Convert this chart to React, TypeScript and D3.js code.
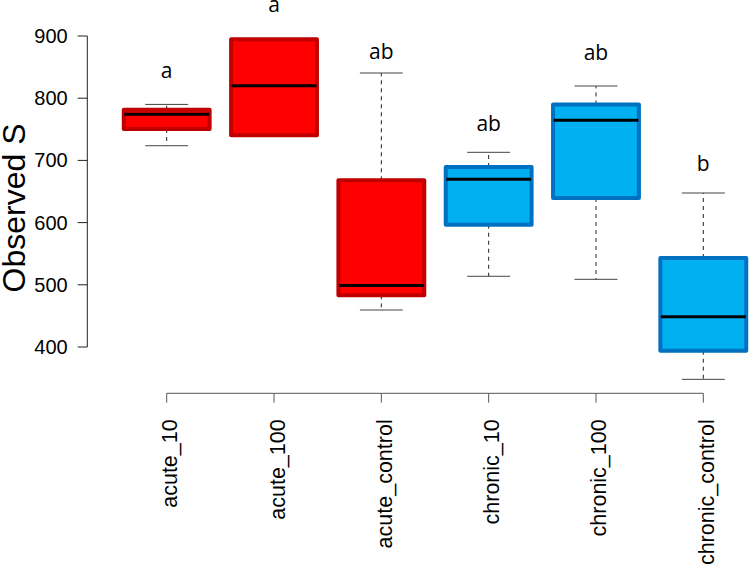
import React from "react";
import * as d3 from "d3";

const categories = ["acute_10", "acute_100", "acute_control", "chronic_10", "chronic_100", "chronic_control"];
const groups = ["acute", "acute", "acute", "chronic", "chronic", "chronic"];
const whiskerLow = [723.6, 740.4, 459.5, 513.7, 508.8, 348];
const q1 = [750.5, 740.4, 483, 596.6, 639.6, 394];
const median = [774, 820, 499, 669.6, 764.5, 448.7];
const q3 = [781.5, 894.7, 668, 689.4, 790, 543];
const whiskerHigh = [790, 894.7, 840.5, 713, 819.6, 647.6];
const letters = ["a", "a", "ab", "ab", "ab", "b"];
const letterPos = [832, 938, 862.5, 747.3, 861.4, 683];
const yTicks = [400, 500, 600, 700, 800, 900];

const fillColor: Record<string, string> = { acute: "#FF0000", chronic: "#00B0F0" };
const borderColor: Record<string, string> = { acute: "#C00000", chronic: "#0070C0" };

const W = 749;
const H = 571;

export default function App() {
  const x = d3.scalePoint<string>().domain(categories).range([166.7, 703.3]);
  const y = d3.scaleLinear().domain([400, 900]).range([347, 36]);
  const step = x.step();
  const halfBox = step * 0.4;
  const halfCap = halfBox / 2;
  const axisY = 393.3;
  const axisX = 87.3;
  const font = "'Liberation Sans', Arial, sans-serif";

  return (
    <svg width={W} height={H} style={{ position: "absolute", left: 0, top: 0, background: "#fff" }}>
      {/* y axis */}
      <line x1={axisX} x2={axisX} y1={y(900)} y2={y(400)} stroke="#222" strokeWidth={1} />
      {yTicks.map((t) => (
        <g key={t}>
          <line x1={axisX - 9.6} x2={axisX} y1={y(t)} y2={y(t)} stroke="#222" strokeWidth={1} />
          <text x={67.7} y={y(t)} textAnchor="end" dominantBaseline="central" fontFamily={font} fontSize={20} fill="#000">
            {t}
          </text>
        </g>
      ))}
      <text
        transform={`translate(25,208) rotate(-90)`}
        textAnchor="middle"
        fontFamily={font}
        fontSize={32}
        fill="#000"
      >
        Observed S
      </text>

      {/* x axis */}
      <line x1={x(categories[0])} x2={x(categories[categories.length - 1])} y1={axisY} y2={axisY} stroke="#555" strokeWidth={1} />
      {categories.map((c) => (
        <g key={c}>
          <line x1={x(c)} x2={x(c)} y1={axisY} y2={axisY + 9.4} stroke="#555" strokeWidth={1} />
          <text
            transform={`translate(${(x(c) as number) + 10.5},419.3) rotate(-90)`}
            textAnchor="end"
            fontFamily={font}
            fontSize={21.5}
            fill="#000"
          >
            {c}
          </text>
        </g>
      ))}

      {/* boxes */}
      {categories.map((c, i) => {
        const cx = x(c) as number;
        const g = groups[i];
        return (
          <g key={c}>
            {whiskerHigh[i] > q3[i] && (
              <>
                <line x1={cx} x2={cx} y1={y(q3[i])} y2={y(whiskerHigh[i])} stroke="#222" strokeWidth={1} strokeDasharray="4,4" />
                <line x1={cx - halfCap} x2={cx + halfCap} y1={y(whiskerHigh[i])} y2={y(whiskerHigh[i])} stroke="#444" strokeWidth={1} />
              </>
            )}
            {whiskerLow[i] < q1[i] && (
              <>
                <line x1={cx} x2={cx} y1={y(q1[i])} y2={y(whiskerLow[i])} stroke="#222" strokeWidth={1} strokeDasharray="4,4" />
                <line x1={cx - halfCap} x2={cx + halfCap} y1={y(whiskerLow[i])} y2={y(whiskerLow[i])} stroke="#444" strokeWidth={1} />
              </>
            )}
            <rect
              x={cx - halfBox}
              y={y(q3[i])}
              width={halfBox * 2}
              height={y(q1[i]) - y(q3[i])}
              fill={fillColor[g]}
              stroke={borderColor[g]}
              strokeWidth={4}
              strokeLinejoin="round"
            />
            <line x1={cx - halfBox + 0.5} x2={cx + halfBox - 0.5} y1={y(median[i])} y2={y(median[i])} stroke="#000" strokeWidth={3} />
            <text x={cx} y={y(letterPos[i])} textAnchor="middle" fontFamily="'Open Sans', sans-serif" fontSize={21} fill="#000">
              {letters[i]}
            </text>
          </g>
        );
      })}
    </svg>
  );
}
